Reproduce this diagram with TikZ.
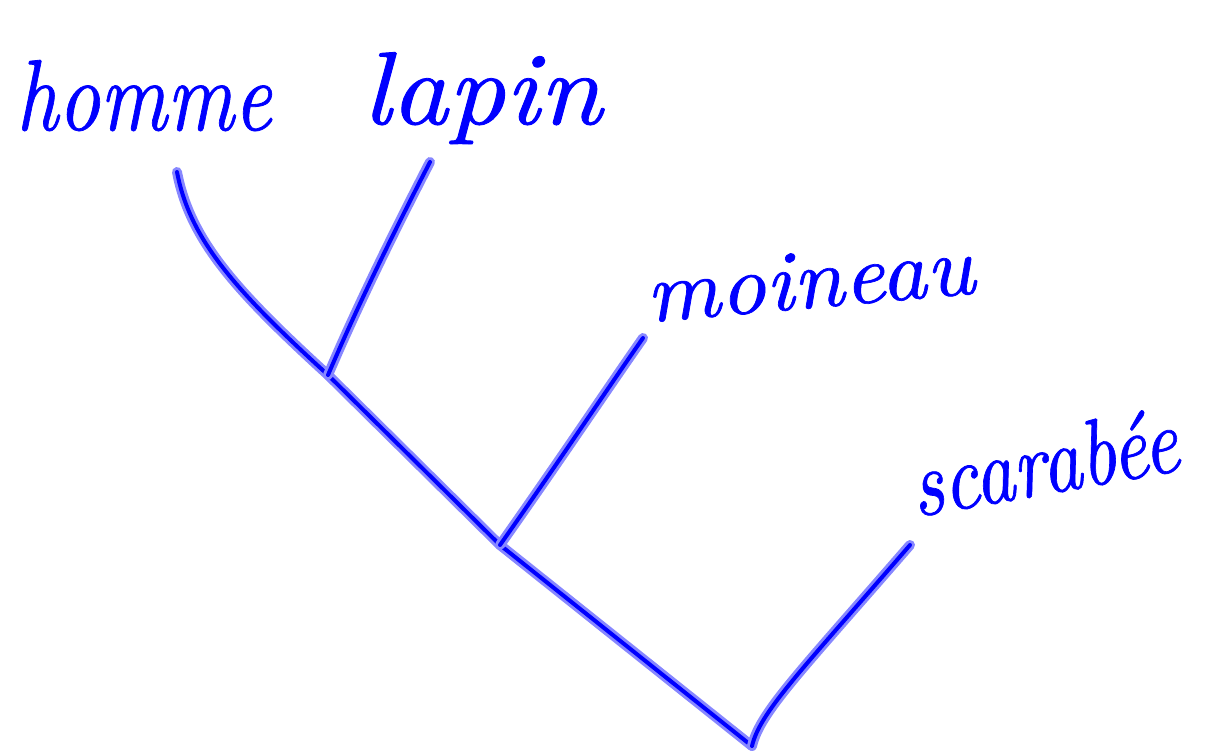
\documentclass[tikz,border=0pt]{standalone}
\usepackage{fontspec}
\newfontfamily\hwfont{lmroman10-italic}[Extension=.otf,FakeBold=0.8]
\definecolor{inkcore}{RGB}{0,0,255}
\definecolor{inkhalo}{RGB}{135,135,255}
\tikzset{
  branch/.style={draw=inkcore,line width=4pt,line cap=round,line join=round,
    preaction={draw=inkhalo,line width=10pt,line cap=round,line join=round}},
  word/.style={inner sep=0pt,anchor=base west,text=inkcore,font=\hwfont\fontsize{90}{90}\selectfont}
}
\begin{document}
\begin{tikzpicture}[x=1pt,y=-1pt]
\useasboundingbox (0,0) rectangle (1212,753);
% junctions
\coordinate (root) at (752,746);
\coordinate (j1) at (500,545);
\coordinate (j2) at (328,375);
\coordinate (thomme) at (177,172);
\coordinate (tlapin) at (430,162);
\coordinate (tmoineau) at (643,338);
\coordinate (tscarabee) at (910,545);
% branches
\path[branch] (root) -- (j1) -- (j2) .. controls (235,290) and (190,240) .. (thomme);
\path[branch] (j2) .. controls (360,300) and (400,220) .. (tlapin);
\path[branch] (j1) .. controls (560,460) and (610,385) .. (tmoineau);
\path[branch] (root) .. controls (760,712) and (800,672) .. (tscarabee);
% words
\node[word] (homme) at (16,130) {\scalebox{0.91}[1.12]{homme}};
\node[word] (lapin) at (362,124) {\scalebox{1.24}[1.15]{lapin}};
\node[word,rotate=5] (moineau) at (648,322) {\scalebox{1.0}[0.95]{moineau}};
\node[word,rotate=10] (scarabee) at (916,517) {\scalebox{0.86}[1.05]{scarabée}};
\end{tikzpicture}
\end{document}
